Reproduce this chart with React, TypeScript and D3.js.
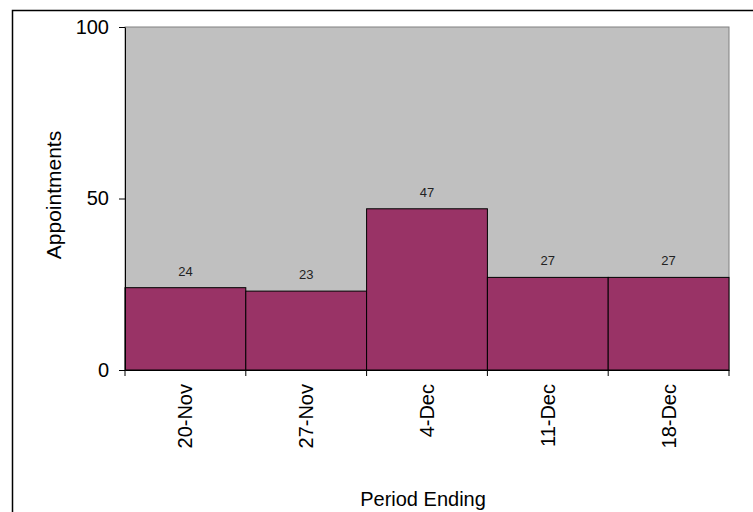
import * as React from "react";
import * as d3 from "d3";
import { useEffect, useRef } from "react";

const categories = ["20-Nov", "27-Nov", "4-Dec", "11-Dec", "18-Dec"];
const appointments = [24, 23, 47, 27, 27];
const yTicks = [0, 50, 100];

const App: React.FunctionComponent = () => {
  const svgRef = useRef<SVGSVGElement>(null);

  useEffect(() => {
    const w = 753;
    const h = 512;
    const left = 125;
    const right = 729;
    const top = 27;
    const bottom = 370;
    const font = "Liberation Sans, Arial, sans-serif";

    const svg = d3.select(svgRef.current).attr("width", w).attr("height", h);
    svg.selectAll("*").remove();

    // outer chart border (runs off the right and bottom edges)
    svg
      .append("rect")
      .attr("x", 12.5)
      .attr("y", 10.5)
      .attr("width", w)
      .attr("height", h)
      .attr("fill", "white")
      .attr("stroke", "black")
      .attr("stroke-width", 1.5);

    const x = d3.scaleBand().domain(categories).range([left, right]).padding(0);
    const y = d3.scaleLinear().domain([0, 100]).range([bottom, top]);

    // plot area
    svg
      .append("rect")
      .attr("x", left)
      .attr("y", top)
      .attr("width", right - left)
      .attr("height", bottom - top)
      .attr("fill", "#C0C0C0")
      .attr("stroke", "#808080")
      .attr("stroke-width", 1);

    svg
      .selectAll(".bar")
      .data(appointments)
      .join("rect")
      .attr("class", "bar")
      .attr("x", (_, i) => x(categories[i]))
      .attr("y", (d) => y(d))
      .attr("width", x.bandwidth())
      .attr("height", (d) => bottom - y(d))
      .attr("fill", "#993366")
      .attr("stroke", "black")
      .attr("stroke-width", 1);

    svg
      .selectAll(".lbl")
      .data(appointments)
      .join("text")
      .attr("class", "lbl")
      .attr("x", (_, i) => x(categories[i]) + x.bandwidth() / 2)
      .attr("y", (d) => y(d) - 12)
      .attr("text-anchor", "middle")
      .attr("font-family", font)
      .attr("font-size", 13)
      .attr("fill", "#222")
      .text((d) => d);

    // y axis
    const yAxis = svg.append("g").attr("transform", `translate(${left},0)`).call(
      d3.axisLeft(y).tickValues(yTicks).tickSize(6).tickSizeOuter(0).tickPadding(10)
    );
    yAxis.select(".domain").attr("stroke", "black");
    yAxis.selectAll("line").attr("stroke", "black");
    yAxis.selectAll("text").attr("font-family", font).attr("font-size", 20).attr("fill", "black");

    // x axis
    const xAxis = svg.append("g").attr("transform", `translate(0,${bottom})`).call(
      d3.axisBottom(x).tickSize(0).tickSizeOuter(0)
    );
    xAxis.select(".domain").attr("stroke", "black");
    xAxis.selectAll(".tick line").remove();
    xAxis
      .selectAll("text")
      .attr("font-family", font)
      .attr("font-size", 20)
      .attr("fill", "black")
      .attr("text-anchor", "end")
      .attr("transform", "translate(0,14) rotate(-90)")
      .attr("x", 0)
      .attr("y", 0)
      .attr("dy", "0.35em");

    // x tick marks at band boundaries
    const edges = categories.map((c) => x(c)).concat([x(categories[categories.length - 1]) + x.bandwidth()]);
    svg
      .selectAll(".xtick")
      .data(edges)
      .join("line")
      .attr("class", "xtick")
      .attr("x1", (d) => d)
      .attr("x2", (d) => d)
      .attr("y1", bottom)
      .attr("y2", bottom + 6)
      .attr("stroke", "black");

    svg
      .append("text")
      .attr("transform", `translate(61,195) rotate(-90)`)
      .attr("text-anchor", "middle")
      .attr("font-family", font)
      .attr("font-size", 21)
      .text("Appointments");

    svg
      .append("text")
      .attr("x", 423)
      .attr("y", 506)
      .attr("text-anchor", "middle")
      .attr("font-family", font)
      .attr("font-size", 20)
      .text("Period Ending");
  }, []);

  return (
    <div style={{ position: "absolute", left: 0, top: 0 }}>
      <svg ref={svgRef} style={{ display: "block" }}></svg>
    </div>
  );
};

export default App;
